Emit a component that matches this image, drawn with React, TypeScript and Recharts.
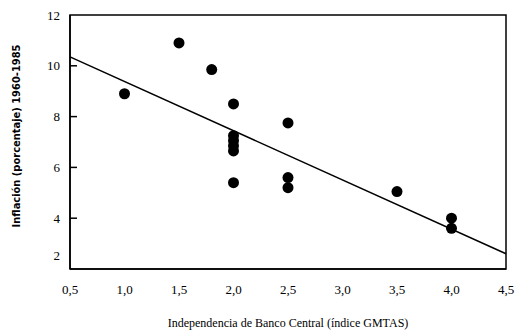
import React from "react";
import {
  ScatterChart,
  Scatter,
  XAxis,
  YAxis,
  ReferenceLine,
  ReferenceArea,
  Label,
} from "recharts";

// índice GMTAS de independencia vs inflación media 1960-1985
const independencia = [1.0, 1.5, 1.8, 2.0, 2.0, 2.0, 2.0, 2.0, 2.0, 2.5, 2.5, 2.5, 3.5, 4.0, 4.0];
const inflacion = [8.9, 10.9, 9.85, 8.5, 7.25, 7.05, 6.85, 6.65, 5.4, 7.75, 5.6, 5.2, 5.05, 4.0, 3.6];

const xTicks = [0.5, 1.0, 1.5, 2.0, 2.5, 3.0, 3.5, 4.0, 4.5];
const yTicks = [2, 4, 6, 8, 10, 12];

// recta de regresión (extremos)
const tendencia = [
  { x: 0.5, y: 10.35 },
  { x: 4.5, y: 2.6 },
];

const data = independencia.map((x, i) => ({ x, y: inflacion[i] }));

const serif = "'Liberation Serif', 'Times New Roman', serif";
const fmt = (v: number) => v.toFixed(1).replace(".", ",");

const YTick = ({ x, y, payload }: any) => {
  const v = payload.value;
  return (
    <g>
      {v !== 12 && v !== 2 && (
        <line x1={x + 10} x2={x + 17} y1={y} y2={y} stroke="#000" strokeWidth={1.5} />
      )}
      <text
        x={x}
        y={v === 2 ? y - 14 : y}
        dy="0.35em"
        textAnchor="end"
        style={{ fontFamily: serif, fontSize: 13, fill: "#000" }}
      >
        {v}
      </text>
    </g>
  );
};

const XTick = ({ x, y, payload }: any) => (
  <text
    x={x}
    y={y}
    dy="0.71em"
    textAnchor="middle"
    style={{ fontFamily: serif, fontSize: 13, fill: "#000" }}
  >
    {fmt(payload.value)}
  </text>
);

const YTitle = ({ viewBox }: any) => (
  <text
    x={viewBox.x + 16}
    y={136}
    transform={`rotate(-90, ${viewBox.x + 16}, 136)`}
    textAnchor="middle"
    dominantBaseline="central"
    style={{
      fontFamily: "'DejaVu Sans Condensed', 'DejaVu Sans', sans-serif",
      fontWeight: "bold",
      fontSize: 11,
      fill: "#000",
    }}
  >
    Inflación (porcentaje) 1960-1985
  </text>
);

export default function App() {
  return (
    <div style={{ width: 516, height: 333, background: "#fff" }}>
      <style>{`body{margin:0}`}</style>
      <ScatterChart width={516} height={333} margin={{ top: 15, right: 10, bottom: 0, left: 0 }}>
        <XAxis
          type="number"
          dataKey="x"
          domain={[0.5, 4.5]}
          ticks={xTicks}
          tickLine={false}
          tickSize={0}
          tickMargin={16}
          height={64}
          axisLine={{ stroke: "#000", strokeWidth: 1.5 }}
          tick={<XTick />}
          interval={0}
        >
          <Label
            value="Independencia de Banco Central (índice GMTAS)"
            position="insideBottom"
            offset={6}
            style={{ fill: "#000", fontFamily: serif, fontSize: 12 }}
          />
        </XAxis>
        <YAxis
          type="number"
          dataKey="y"
          domain={[2, 12]}
          ticks={yTicks}
          tickLine={false}
          tickSize={0}
          tickMargin={10}
          width={70}
          axisLine={{ stroke: "#000", strokeWidth: 1.5 }}
          tick={<YTick />}
          interval={0}
        >
          <Label content={<YTitle />} />
        </YAxis>
        <ReferenceArea x1={0.5} x2={4.5} y1={2} y2={12} fill="none" stroke="#000" strokeWidth={1.5} />
        <ReferenceLine segment={tendencia} stroke="#000" strokeWidth={1.5} />
        <Scatter
          data={data}
          fill="#000"
          isAnimationActive={false}
          shape={(p: any) => <circle cx={p.cx} cy={p.cy} r={5.5} fill="#000" />}
        />
      </ScatterChart>
    </div>
  );
}
